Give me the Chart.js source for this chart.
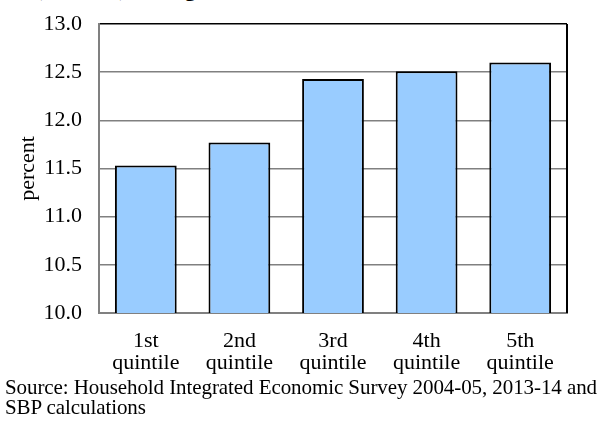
<!DOCTYPE html>
<html>
<head>
<meta charset="utf-8">
<script src="https://cdn.jsdelivr.net/npm/chart.js@4/dist/chart.umd.min.js"></script>
<style>
  html, body { margin: 0; padding: 0; background: #fff; }
  #wrap { position: relative; width: 601px; height: 432px; overflow: hidden; font-family: "Liberation Serif", "Times New Roman", serif; }
  #chart { position: absolute; left: 0; top: 0; }
  #heading { position: absolute; left: 35px; top: -22px; font-size: 22px; font-weight: bold; line-height: 22px; white-space: nowrap; color: #000; }
  #source { position: absolute; left: 5px; top: 377px; font-size: 21px; line-height: 20px; color: #000; letter-spacing: -0.08px; white-space: nowrap; }
</style>
</head>
<body>
<div id="wrap">
  <div id="heading">(national) during 2004-05 and 2013-14</div>
  <canvas id="chart" width="601" height="432"></canvas>
  <div id="source">Source: Household Integrated Economic Survey 2004-05, 2013-14 and<br>SBP calculations</div>
</div>
<script>

const quintiles = [["1st", "quintile"], ["2nd", "quintile"], ["3rd", "quintile"], ["4th", "quintile"], ["5th", "quintile"]];
const shares = [11.53, 11.77, 12.43, 12.51, 12.60];
const yTicks = [10.0, 10.5, 11.0, 11.5, 12.0, 12.5, 13.0];

// black frame on the right edge of the plot
const frame = {
    id: "frame",
    afterDraw(chart) {
        const { ctx, chartArea } = chart;
        ctx.save();
        ctx.strokeStyle = "#000";
        ctx.lineWidth = 2;
        ctx.beginPath();
        ctx.moveTo(chartArea.right, chartArea.top);
        ctx.lineTo(chartArea.right, chartArea.bottom);
        ctx.stroke();
        ctx.restore();
    }
};

const ctx = document.getElementById("chart").getContext("2d");

new Chart(ctx, {
    type: "bar",
    data: {
        labels: quintiles,
        datasets: [{
            data: shares,
            backgroundColor: "#99CCFF",
            borderColor: "#000",
            borderWidth: 2,
            barPercentage: 0.66,
            categoryPercentage: 1
        }]
    },
    options: {
        responsive: false,
        animation: false,
        layout: { padding: { top: 24, right: 34, left: 0, bottom: 0 } },
        plugins: { legend: { display: false }, tooltip: { enabled: false } },
        scales: {
            x: {
                grid: { display: false, drawTicks: false },
                border: { color: "#808080", width: 2 },
                ticks: {
                    color: "#000",
                    padding: 17,
                    maxRotation: 0,
                    font: { family: "Liberation Serif", size: 22, lineHeight: 1.0 }
                },
                afterFit(scale) { scale.height = 119; }
            },
            y: {
                min: 10,
                max: 13,
                afterBuildTicks(scale) { scale.ticks = yTicks.map(v => ({ value: v })); },
                grid: {
                    drawTicks: false,
                    lineWidth: 1.5,
                    color: c => (c.tick && c.tick.value === 13 ? "#000" : "#808080")
                },
                border: { color: "#808080", width: 2 },
                ticks: {
                    color: "#000",
                    padding: 17,
                    font: { family: "Liberation Serif", size: 22 },
                    callback: v => Number(v).toFixed(1)
                },
                title: {
                    display: true,
                    text: "percent",
                    color: "#000",
                    padding: { top: 15, bottom: 0 },
                    font: { family: "Liberation Serif", size: 22, lineHeight: 1.2 }
                },
                afterFit(scale) {
                    scale.width = 99;
                    scale.paddingTop = 0;
                    scale.paddingBottom = 0;
                }
            }
        }
    },
    plugins: [frame]
});

</script>
</body>
</html>
